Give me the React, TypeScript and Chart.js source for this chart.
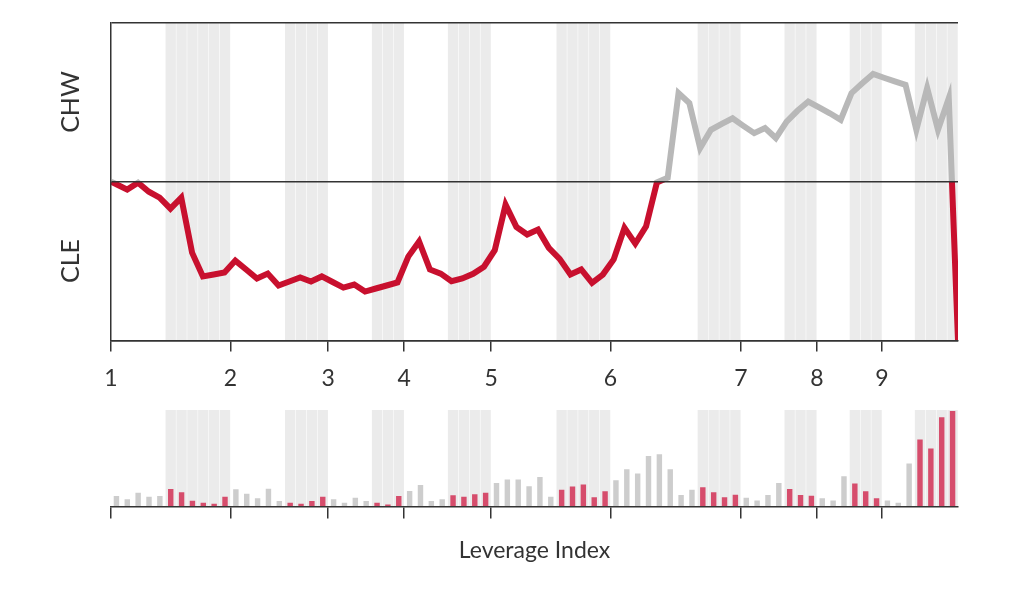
import React, { useEffect, useRef } from "react";
import Chart from "chart.js/auto";

Chart.defaults.font.family = "Lato, 'Open Sans', sans-serif";
Chart.defaults.color = "#333";

// innings and the plate appearance each one starts at
const innings = ["1", "2", "3", "4", "5", "6", "7", "8", "9"];
const inningStart = [0, 11, 20, 27, 35, 46, 58, 65, 71];

// CLE batting (shaded), first and last plate appearance of each half
const cleBatting = [
  [5, 10], [16, 19], [24, 26], [31, 34], [41, 45],
  [54, 57], [62, 64], [68, 70], [74, 77],
];

// win probability edge after each plate appearance (+ = CHW, - = CLE)
const startEdge = 0;
const finalEdge = -100;
const winEdge = [
  -1.6, -5, -0.6, -6.3, -10, -17, -10, -44.7, -59.7, -58.5,
  -57.2, -49.7, -55.3, -61, -57.9, -65.4, -62.9, -60.4, -62.9, -59.7,
  -63.2, -66.7, -64.8, -69.2, -67.3, -65.4, -63.5, -47.2, -37.7, -55.3,
  -57.9, -62.7, -61, -58, -53.6, -43.2, -14.5, -28.5, -33.3, -30.2,
  -41.7, -48.6, -58.5, -55.3, -63.7, -58.5, -49, -29.1, -39, -28.1,
  -0.5, 2.5, 55.8, 49.5, 21.2, 32.7, 36.5, 40, 35.2, 30.6,
  33.8, 27.5, 37.9, 44.7, 50.5, 46.8, 43.1, 39, 55.8, 62,
  67.9, 65.5, 63.2, 61, 32.7, 59, 32.7, 52.6,
];

// leverage index of each plate appearance
const leverage = [
  10.3, 7, 13.7, 9.7, 10.3, 17.3, 14, 5.7, 3.7, 2.7,
  9.7, 17, 12.7, 8, 17.7, 5.3, 3.7, 2.7, 5.3, 9.7,
  7, 3.7, 8.7, 5.3, 3.7, 2, 10.3, 15.3, 21.3, 5.3,
  7, 11, 9.7, 12, 13.7, 23.3, 26.7, 26.7, 20, 29.3,
  9.7, 16.7, 19.7, 21.7, 9, 15, 26, 37, 32.7, 50.3,
  52, 37, 11.3, 16.7, 19, 14, 9, 11.7, 8.7, 6,
  11.3, 23.3, 17.3, 11.3, 10.7, 8, 6, 30, 22.7, 15,
  8, 6, 3.7, 42.7, 66.7, 57.7, 88.7, 95,
];
const leverageMax = 96;

const paCount = leverage.length;
const lineSpan = paCount / 0.9955;

const RED = "#c8102e";
const GRAY_LINE = "#b8b8b8";
const BAR_RED = "#d64d6c";
const BAR_GRAY = "#cdcdcd";
const BAND = "#ebebeb";
const INK = "#333";

const isCle = (i: number) => cleBatting.some(([a, b]) => i >= a && i <= b);
const paIdx = Array.from({ length: paCount }, (_, i) => i);

const inningTicks = (axis: any) => {
  axis.ticks = inningStart.map((v) => ({ value: v }));
};

const App: React.FC = () => {
  const topRef = useRef<HTMLCanvasElement | null>(null);
  const botRef = useRef<HTMLCanvasElement | null>(null);

  useEffect(() => {
    if (!topRef.current || !botRef.current) return;

    const top = new Chart(topRef.current, {
      type: "line",
      data: {
        datasets: [
          {
            type: "line",
            xAxisID: "xLine",
            order: 0,
            data: [
              { x: 0, y: startEdge },
              ...winEdge.map((v, i) => ({ x: i + 0.5, y: v })),
              { x: lineSpan, y: finalEdge },
            ],
            borderWidth: 6,
            borderJoinStyle: "miter",
            pointRadius: 0,
            tension: 0,
            borderColor: (c: any) => {
              const { chart } = c;
              const area = chart.chartArea;
              if (!area) return RED;
              const y0 = chart.scales.y.getPixelForValue(0);
              const r = (y0 - area.top) / (area.bottom - area.top);
              const g = chart.ctx.createLinearGradient(0, area.top, 0, area.bottom);
              g.addColorStop(0, GRAY_LINE);
              g.addColorStop(r, GRAY_LINE);
              g.addColorStop(r, RED);
              g.addColorStop(1, RED);
              return g;
            },
          },
          {
            type: "bar",
            xAxisID: "x",
            order: 1,
            grouped: false,
            data: paIdx.map((i) => ({ x: i + 0.5, y: isCle(i) ? [-100, 100] : null })),
            backgroundColor: BAND,
            barPercentage: 0.95,
            categoryPercentage: 1,
          } as any,
        ],
      },
      options: {
        responsive: false,
        animation: false,
        layout: { padding: { left: 111, right: 66, top: 23, bottom: 1 } },
        plugins: { legend: { display: false }, tooltip: { enabled: false } },
        scales: {
          x: {
            type: "linear",
            min: 0,
            max: paCount,
            offset: false,
            afterBuildTicks: inningTicks,
            ticks: {
              autoSkip: false,
              maxRotation: 0,
              padding: 13,
              font: { size: 23 },
              color: INK,
              callback: (_v: any, i: number) => innings[i],
            },
            grid: { offset: false, z: 1, drawOnChartArea: false, drawTicks: true, tickLength: 11, color: INK, lineWidth: 1.5 },
            border: { display: true, z: 1, color: INK, width: 1.5 },
          },
          xLine: { type: "linear", display: false, offset: false, min: 0, max: lineSpan },
          y: {
            min: -100,
            max: 100,
            afterBuildTicks: (axis: any) => {
              axis.ticks = [{ value: -100 }, { value: 0 }, { value: 100 }];
            },
            ticks: { display: false },
            grid: { z: 1, drawTicks: false, color: INK, lineWidth: 1.5 },
            border: { display: true, z: 1, color: INK, width: 1.5 },
          },
        },
      },
    });

    const bottom = new Chart(botRef.current, {
      type: "bar",
      data: {
        datasets: [
          {
            order: 0,
            grouped: false,
            data: leverage.map((v, i) => ({ x: i + 0.5, y: v })),
            backgroundColor: leverage.map((_, i) => (isCle(i) ? BAR_RED : BAR_GRAY)),
            barPercentage: 0.5,
            categoryPercentage: 1,
          },
          {
            order: 1,
            grouped: false,
            data: paIdx.map((i) => ({ x: i + 0.5, y: isCle(i) ? leverageMax : null })),
            backgroundColor: BAND,
            barPercentage: 0.95,
            categoryPercentage: 1,
          } as any,
        ],
      },
      options: {
        responsive: false,
        animation: false,
        layout: { padding: { left: 111, right: 66, top: 30, bottom: 43 } },
        plugins: { legend: { display: false }, tooltip: { enabled: false } },
        scales: {
          x: {
            type: "linear",
            min: 0,
            max: paCount,
            offset: false,
            afterBuildTicks: inningTicks,
            ticks: { display: false },
            grid: { offset: false, z: 1, drawOnChartArea: false, drawTicks: true, tickLength: 12, color: INK, lineWidth: 1.5 },
            border: { display: true, z: 1, color: INK, width: 1.5 },
            title: {
              display: true,
              text: "Leverage Index",
              font: { size: 23 },
              color: INK,
              padding: { top: 18, bottom: 0 },
            },
          },
          y: { display: false, min: 0, max: leverageMax },
        },
      },
    });

    return () => {
      top.destroy();
      bottom.destroy();
    };
  }, []);

  const sideLabel: React.CSSProperties = {
    position: "absolute",
    left: 69,
    transform: "translate(-50%, -50%) rotate(-90deg)",
    fontFamily: "Lato, 'Open Sans', sans-serif",
    fontSize: 25,
    color: INK,
    whiteSpace: "nowrap",
    lineHeight: 1,
  };

  return (
    <div style={{ position: "absolute", left: 0, top: 0, width: 1024, height: 607, background: "#fff" }}>
      <canvas ref={topRef} width={1024} height={406} style={{ position: "absolute", left: 0, top: 0 }} />
      <canvas ref={botRef} width={1024} height={227} style={{ position: "absolute", left: 0, top: 380 }} />
      <div style={{ ...sideLabel, top: 102 }}>CHW</div>
      <div style={{ ...sideLabel, top: 261 }}>CLE</div>
    </div>
  );
};

export default App;
